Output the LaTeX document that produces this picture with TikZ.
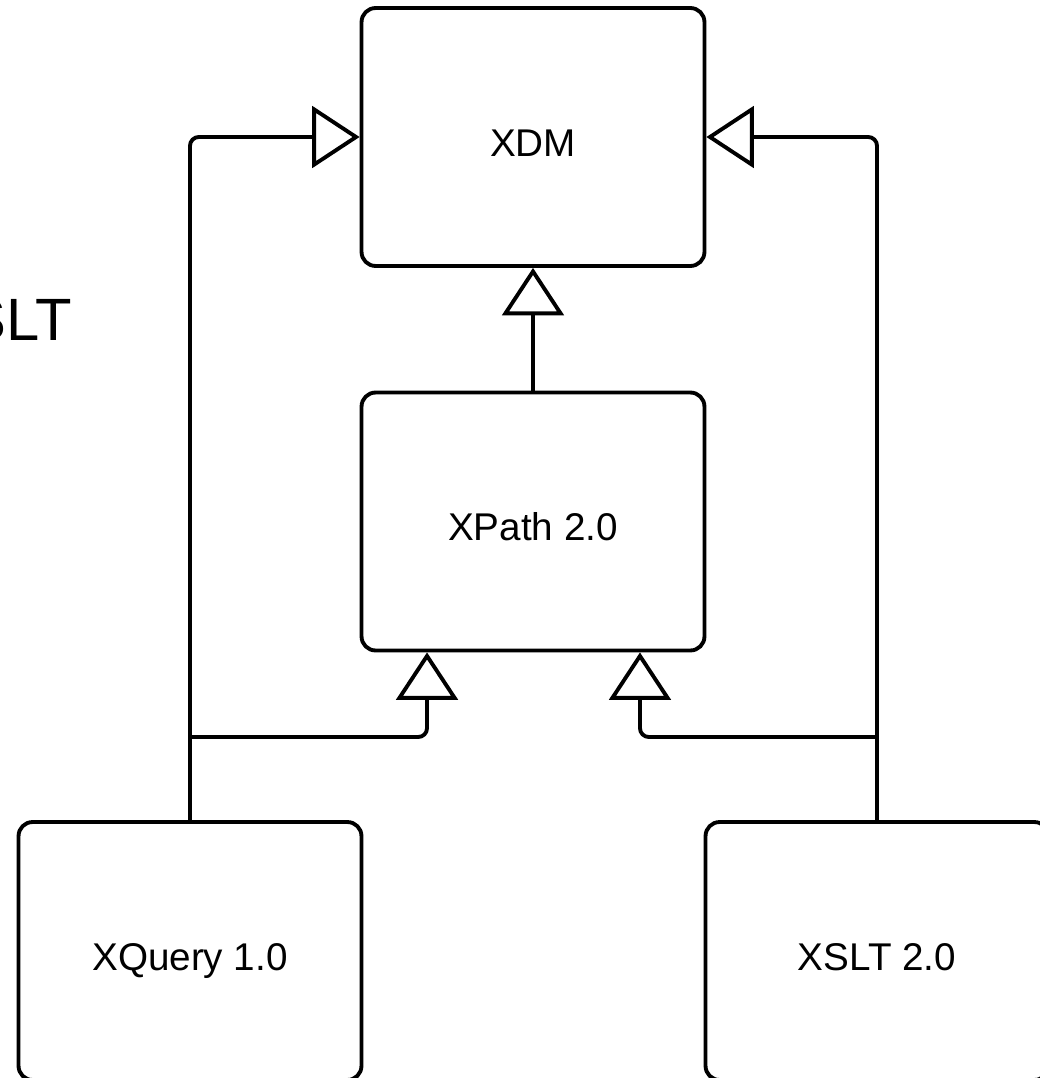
\documentclass[tikz,border=0pt]{standalone}
\usepackage{fontspec}
\setmainfont{Liberation Sans}
\usetikzlibrary{arrows.meta}

\begin{document}
\begin{tikzpicture}[x=0.02cm, y=-0.02cm,
  box/.style = {draw, line width=2.2pt, rounded corners=8pt, minimum width=6.86cm, minimum height=5.16cm, text height=22pt, text depth=0pt, font=\fontsize{22}{26}\selectfont},
  inherit/.style = {line width=2.2pt, rounded corners=5pt, -{Triangle[open, length=27pt, width=35pt]}}]

\clip (0,0) rectangle (1040,1078);

% Cut-off title
\node[anchor=base east, inner sep=0pt, font=\fontsize{34}{40}\selectfont] (title) at (72,340) {XSLT};

% Boxes
\node[box] (xdm) at (533,137) {XDM};
\node[box] (xpath) at (533,521.5) {XPath 2.0};
\node[box] (xquery) at (190,951) {XQuery 1.0};
\node[box] (xslt) at (877,951) {XSLT 2.0};

% Junction level
\coordinate (join) at (0,737);

% Connectors
\draw[inherit] (xpath.north) -- (xdm.south);
\draw[inherit] (xquery.north) -- (xquery.north |- xdm.west) -- (xdm.west);
\draw[inherit] (xslt.north) -- (xslt.north |- xdm.east) -- (xdm.east);
\draw[inherit] (xquery.north |- join) -| ([xshift=-2.12cm]xpath.south);
\draw[inherit] (xslt.north |- join) -| ([xshift=2.14cm]xpath.south);

\end{tikzpicture}
\end{document}
